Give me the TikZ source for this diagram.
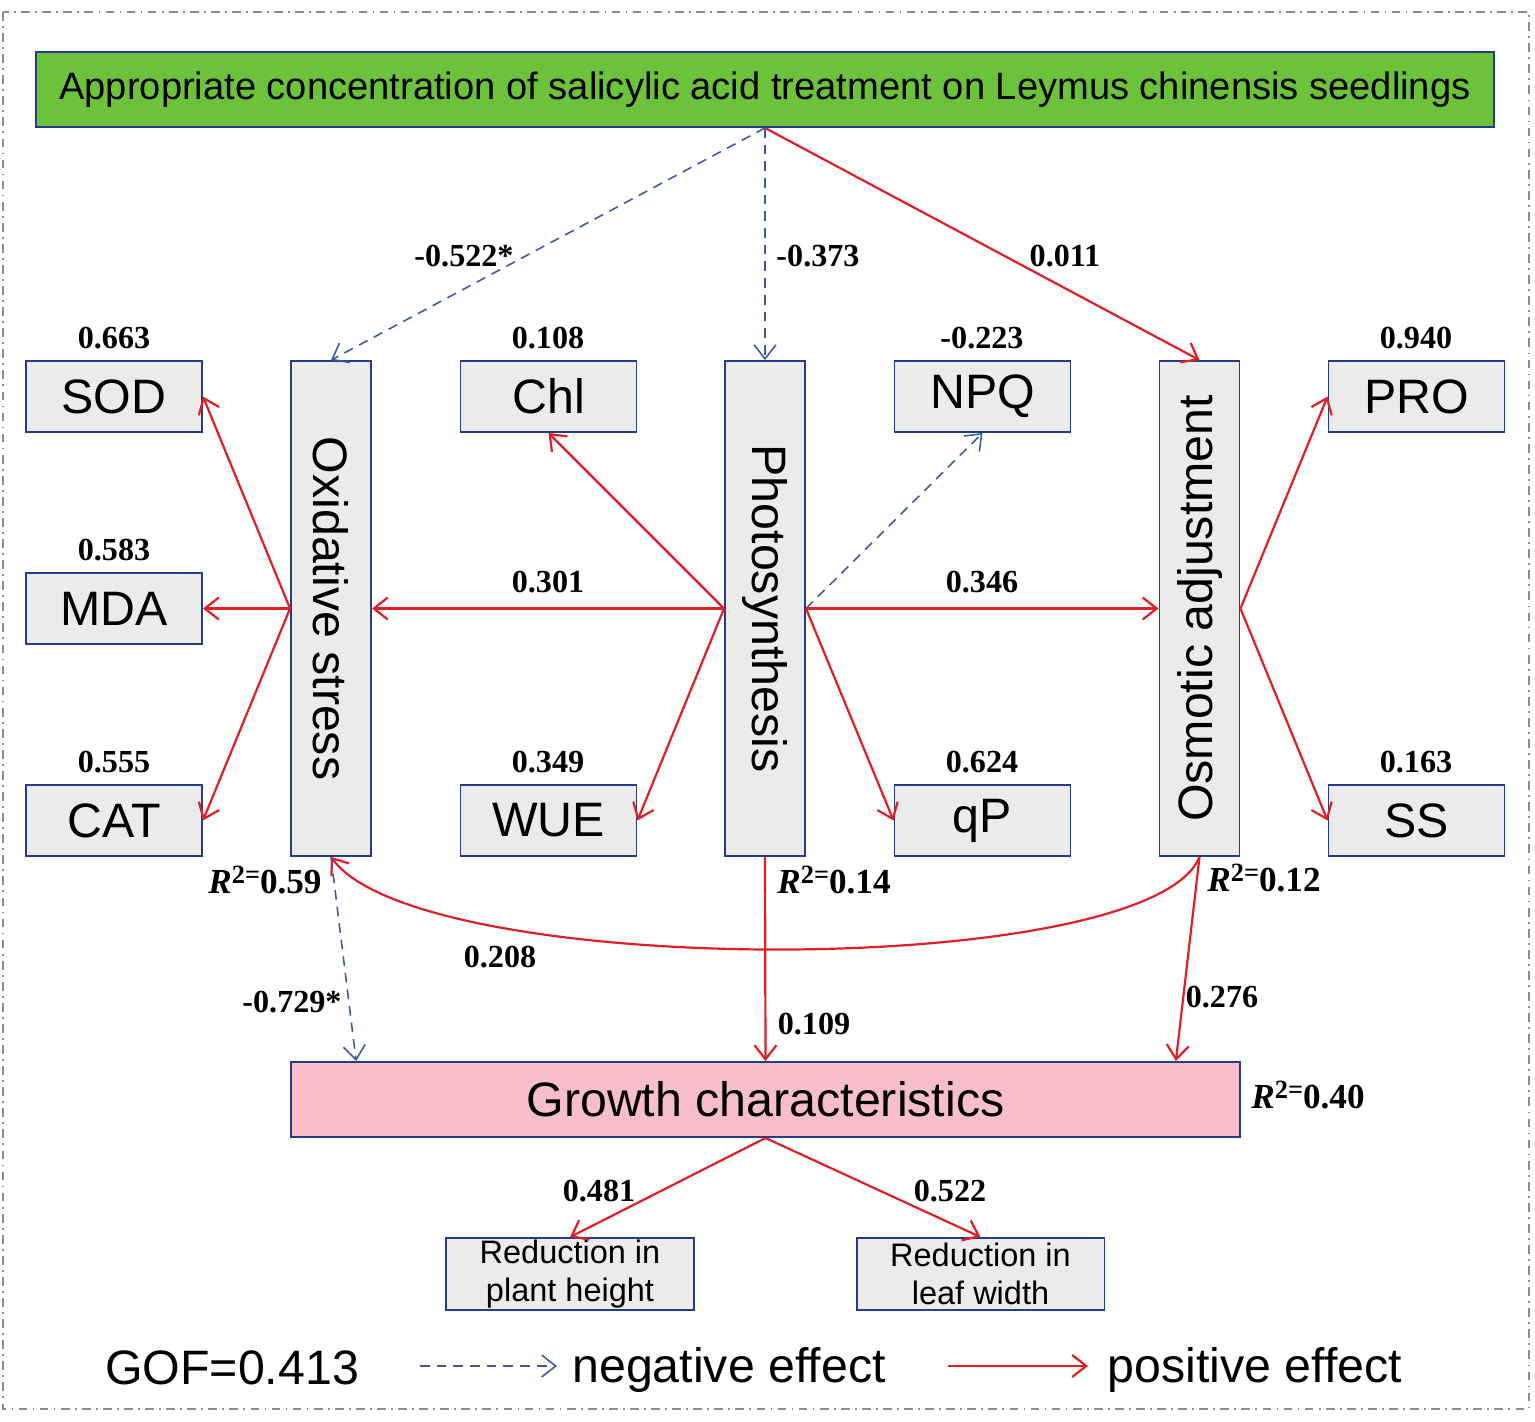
\documentclass[tikz,border=0pt]{standalone}
\usepackage{fontspec}
\setmainfont{Liberation Serif}
\newfontfamily\arialf{Liberation Sans}
\usetikzlibrary{arrows.meta,calc}
\definecolor{topgreen}{RGB}{108,194,58}
\definecolor{growpink}{RGB}{248,190,202}
\definecolor{boxgray}{RGB}{235,235,235}
\definecolor{boxblue}{RGB}{35,60,140}
\definecolor{posred}{RGB}{225,30,35}
\definecolor{negblue}{RGB}{60,90,160}
\definecolor{framegray}{RGB}{140,140,140}
\begin{document}
\begin{tikzpicture}[x=0.02cm,y=-0.02cm,
  box/.style={draw=boxblue, line width=1.1pt, fill=boxgray, inner sep=0pt,
    font=\arialf\fontsize{27.5}{30}\selectfont},
  sbox/.style={box, minimum width=3.52cm, minimum height=1.42cm},
  vbox/.style={box, minimum width=1.6cm, minimum height=9.9cm},
  num/.style={font=\bfseries\fontsize{18.3}{20}\selectfont, inner sep=0pt},
  rlab/.style={font=\bfseries\fontsize{20}{22}\selectfont, inner sep=0pt},
  legtext/.style={font=\arialf\fontsize{27.5}{30}\selectfont, inner sep=0pt},
  tipstyle/.style={-{Straight Barb[length=8pt,width=12.5pt]}},
  posarrow/.style={draw=posred, line width=1.25pt, tipstyle},
  negarrow/.style={draw=negblue, line width=0.9pt, dash pattern=on 5.5pt off 4pt, tipstyle}]
\useasboundingbox (0,0) rectangle (1535,1421);
% frame
\draw[framegray, line width=1pt, dash pattern=on 5pt off 3pt on 1pt off 3pt] (3,12) rectangle (1529,1409);

% top
\node[box, fill=topgreen, minimum width=29.16cm, minimum height=1.5cm,
  font=\arialf\fontsize{21.7}{24}\selectfont] (top) at (765,89.5)
  {Appropriate concentration of salicylic acid treatment on Leymus chinensis seedlings};

% vertical boxes
\node[vbox, label={[rotate=-90, font=\arialf\fontsize{27.5}{30}\selectfont]center:Oxidative stress}] (ox) at (331,608.5) {};
\node[vbox, label={[rotate=-90, font=\arialf\fontsize{27.5}{30}\selectfont]center:Photosynthesis}] (ph) at (765,608.5) {};
\node[vbox, label={[rotate=90, font=\arialf\fontsize{27.5}{30}\selectfont]center:Osmotic adjustment}] (os) at (1199.5,608.5) {};

% small boxes
\node[sbox] (sod) at (114,396.5) {SOD};
\node[sbox] (mda) at (114,608.5) {MDA};
\node[sbox] (cat) at (114,820.5) {CAT};
\node[sbox] (chl) at (548.5,396.5) {Chl};
\node[sbox] (wue) at (548.5,820.5) {WUE};
\node[sbox] (npq) at (982.5,396.5) {NPQ};
\node[sbox] (qp) at (982.5,820.5) {qP};
\node[sbox] (pro) at (1416.5,396.5) {PRO};
\node[sbox] (ss) at (1416.5,820.5) {SS};

% growth
\node[box, fill=growpink, minimum width=18.98cm, minimum height=1.5cm] (gr) at (765.5,1099.5) {Growth characteristics};
\node[box, minimum width=4.96cm, minimum height=1.44cm, align=center,
  font=\arialf\fontsize{18.5}{22}\selectfont] (ph1) at (570,1274) {Reduction in\\plant height};
\node[box, minimum width=4.96cm, minimum height=1.44cm, align=center,
  font=\arialf\fontsize{18.5}{22}\selectfont] (lw1) at (980.5,1274) {Reduction in\\leaf width};

% loadings labels
\node[num] (l1) at (114,338) {0.663};
\node[num] (l2) at (114,550) {0.583};
\node[num] (l3) at (114,762) {0.555};
\node[num] (l4) at (548,338) {0.108};
\node[num] (l5) at (548,762) {0.349};
\node[num] (l6) at (982,338) {-0.223};
\node[num] (l7) at (982,762) {0.624};
\node[num] (l8) at (1416,338) {0.940};
\node[num] (l9) at (1416,762) {0.163};

% edges from top
\draw[negarrow] (top.south) -- (ox.north);
\draw[negarrow] (top.south) -- (ph.north);
\draw[posarrow] (top.south) -- (os.north);
\node[num] (e1) at (464,256) {-0.522*};
\node[num] (e2) at (818,256) {-0.373};
\node[num] (e3) at (1065,256) {0.011};

% oxidative indicators
\draw[posarrow] (ox.west) -- (sod.east);
\draw[posarrow] (ox.west) -- (mda.east);
\draw[posarrow] (ox.west) -- (cat.east);

% photosynthesis
\draw[posarrow] (ph.west) -- (ox.east);
\draw[posarrow] (ph.west) -- (chl.south);
\draw[posarrow] (ph.west) -- (wue.east);
\draw[negarrow] (ph.east) -- (npq.south);
\draw[posarrow] (ph.east) -- (qp.west);
\draw[posarrow] (ph.east) -- (os.west);
\node[num] (e4) at (548,582) {0.301};
\node[num] (e5) at (982,582) {0.346};

% osmotic indicators
\draw[posarrow] (os.east) -- (pro.west);
\draw[posarrow] (os.east) -- (ss.west);

% to growth
\draw[posarrow] (os.south) .. controls (1150,980) and (420,980) .. (ox.south);
\draw[negarrow] (ox.south) -- ($(gr.north west)+(66,0)$);
\draw[posarrow] (ph.south) -- (gr.north);
\draw[posarrow] (os.south) -- ($(gr.north east)+(-65,0)$);
\node[num] (e6) at (500,957) {0.208};
\node[num] (e7) at (292,1002) {-0.729*};
\node[num] (e8) at (814,1024) {0.109};
\node[num] (e9) at (1222,997) {0.276};

% R2
\node[rlab] (r1) at (265,880) {\textit{R}{\fontsize{15}{16}\selectfont\raisebox{0.35em}{2=}}0.59};
\node[rlab] (r2) at (834,880) {\textit{R}{\fontsize{15}{16}\selectfont\raisebox{0.35em}{2=}}0.14};
\node[rlab] (r3) at (1264,878) {\textit{R}{\fontsize{15}{16}\selectfont\raisebox{0.35em}{2=}}0.12};
\node[rlab] (r4) at (1308,1095) {\textit{R}{\fontsize{15}{16}\selectfont\raisebox{0.35em}{2=}}0.40};

% growth indicators
\draw[posarrow] (gr.south) -- (ph1.north);
\draw[posarrow] (gr.south) -- (lw1.north);
\node[num] (e10) at (599,1191) {0.481};
\node[num] (e11) at (950,1191) {0.522};

% legend
\node[legtext] (gof) at (232,1368) {GOF=0.413};
\coordinate (na) at (420,1366);
\coordinate (nb) at (557,1366);
\draw[negarrow] (na) -- (nb);
\node[legtext] (negt) at (729,1370) {negative effect};
\coordinate (pa) at (948,1366);
\coordinate (pb) at (1088,1366);
\draw[posarrow] (pa) -- (pb);
\node[legtext] (post) at (1255,1370) {positive effect};
\end{tikzpicture}
\end{document}
